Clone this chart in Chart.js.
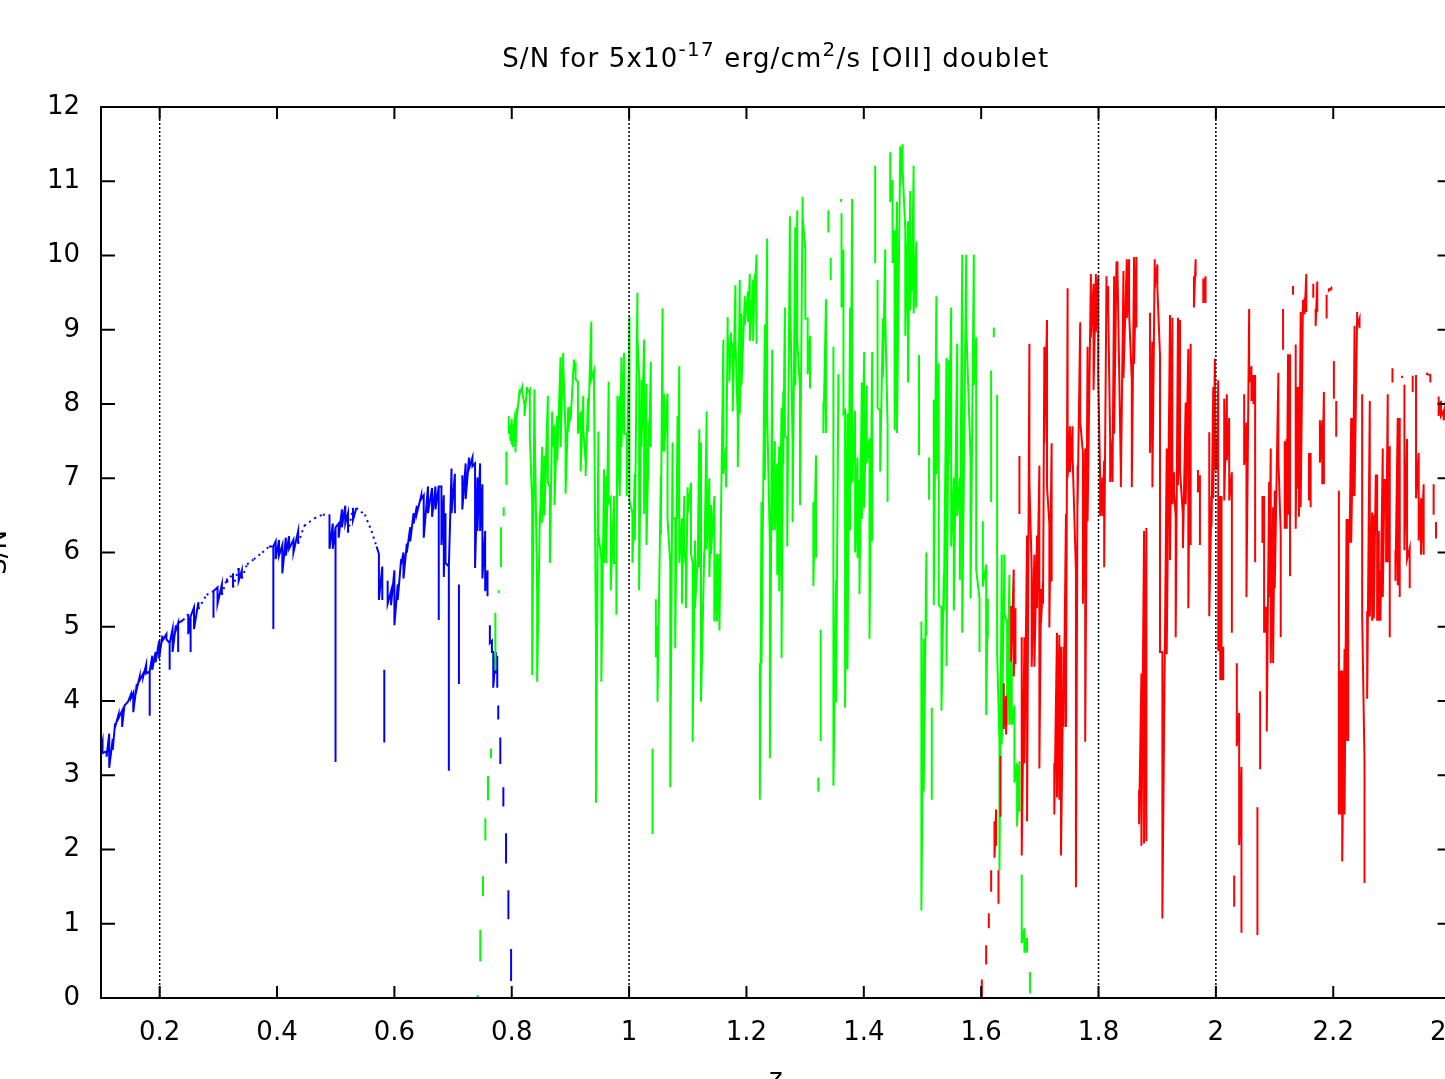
<!DOCTYPE html>
<html>
<head>
<meta charset="utf-8">
<script src="https://cdn.jsdelivr.net/npm/chart.js@4.4.1/dist/chart.umd.min.js"></script>
<style>
html,body{margin:0;padding:0;background:#fff;overflow:hidden;}
#wrap{position:absolute;left:0;top:0;width:1500px;height:1079px;}
</style>
</head>
<body>
<div id="wrap"><canvas id="c" width="1500" height="1079"></canvas></div>
<script>
// ---------------- data ----------------
const xTickValues = [0.2,0.4,0.6,0.8,1.0,1.2,1.4,1.6,1.8,2.0,2.2,2.4];
const xTickLabels = ['0.2','0.4','0.6','0.8','1','1.2','1.4','1.6','1.8','2','2.2','2.4'];
const yTickValues = [0,1,2,3,4,5,6,7,8,9,10,11,12];
const yTickLabels = ['0','1','2','3','4','5','6','7','8','9','10','11','12'];
const dottedZ = [0.2, 1.0, 1.8, 2.0];
const titleParts = [['S/N for 5x10', false], ['-17', true], [' erg/cm', false], ['2', true], ['/s [OII] doublet', false]];
const xAxisTitle = 'z';
const yAxisTitle = 'S/N';

// each sample: [z, S/N upper, S/N lower(, S/N return)] in a narrow redshift bin; null = no data
const blueSamples = [
 [0.100,3.41,3.35],[0.1026,3.45,3.30],[0.1095,3.32,3.25],[0.114,3.56,3.10],[0.120,3.49,3.34],
 [0.124,3.70,3.65],[0.130,3.82,3.77],[0.136,3.87,3.65],[0.140,3.94,3.94],[0.146,3.99,3.99],
 [0.151,4.09,4.04],[0.155,4.11,3.85],[0.161,4.23,4.16],[0.166,4.33,4.28],[0.172,4.37,4.33],
 [0.177,4.49,4.37],[0.183,4.40,3.80,4.40],[0.1874,4.61,4.42],[0.193,4.66,4.52],[0.199,4.81,4.57],
 [0.2046,4.88,4.81],[0.2115,4.90,4.83],[0.217,4.78,4.42,4.78],[0.222,4.97,4.66],[0.2275,5.02,4.95],
 [0.2315,5.05,4.66,5.05],[0.240,5.09,5.09],[0.2487,5.17,4.90],[0.2527,5.14,4.66,5.14],[0.2585,5.26,4.97],
 [0.266,5.33,5.24],[0.280,5.43,5.43],[0.2917,5.48,5.12,5.48],[0.2986,5.53,5.31],[0.306,5.57,5.43],
 [0.3146,5.65,5.60],[0.325,5.72,5.53],[0.3347,5.79,5.62],[0.340,5.76,5.65],[0.349,5.84,5.84],
 [0.3605,5.91,5.91],[0.375,6.00,6.00],[0.3862,6.08,6.08],[0.3937,6.08,4.97,6.08],[0.3977,6.15,5.91],
 [0.4034,6.17,5.96],[0.409,6.10,5.72],[0.415,6.20,5.96],[0.4206,6.22,6.05],[0.428,6.17,6.00],
 [0.436,6.29,6.12],[0.4464,6.36,6.36],[0.4636,6.46,6.46],[0.478,6.51,6.51],[0.4894,6.51,6.05],
 [0.495,6.39,6.05],[0.4997,6.34,3.18,6.34],[0.505,6.39,6.20],[0.5106,6.58,6.34],[0.5163,6.63,6.39],
 [0.5209,6.53,6.27],[0.5295,6.60,6.44],[0.5352,6.60,6.60],[0.5496,6.51,6.51],[0.561,6.29,6.29],
 [0.5696,6.08,6.08],[0.5736,5.98,5.36],[0.5794,5.81,5.36],null,[0.5828,4.42,3.44],null,
 [0.5885,5.62,5.31],[0.5943,5.48,5.29],[0.600,5.76,5.02],[0.6057,5.57,5.36],[0.6115,5.91,5.84],
 [0.6155,6.00,5.65],[0.6212,6.12,6.00],[0.627,6.34,6.15],[0.6327,6.53,6.39],[0.6384,6.63,6.53],
 [0.6458,6.77,6.72],[0.650,6.77,6.20],[0.6573,6.89,6.53],[0.6642,6.87,6.48],[0.670,6.89,6.58],
 [0.6756,6.89,5.09,6.89],[0.6802,6.89,6.10],[0.6842,6.77,5.67],[0.6871,6.53,5.86],[0.6928,5.81,3.06,5.81],
 [0.6974,7.13,6.53],[0.7031,7.06,6.53],null,[0.710,5.57,4.23],null,[0.7158,7.04,6.58],
 [0.7215,7.20,6.72],[0.7272,7.28,7.13],[0.733,7.28,7.16],[0.7375,7.20,5.79],[0.7415,7.01,6.29],
 [0.7461,7.20,6.29],[0.750,6.92,5.65],[0.7547,6.29,5.48],[0.7587,5.76,5.41],null,
 [0.7627,5.02,4.78],[0.7662,4.81,4.66],[0.7685,4.66,4.18],[0.773,4.66,4.37],[0.7753,4.61,4.18],null,
 [0.777,3.94,3.75],null,[0.7805,3.51,3.15],null,[0.7857,2.84,2.58],null,[0.7903,2.22,1.81],null,
 [0.7943,1.45,1.06],null,[0.7989,0.66,0.23]
];

const greenSamples = [
 [0.742,0.04,0.0],null,[0.7464,0.92,0.49],null,[0.751,1.64,1.37],null,[0.755,2.42,2.12],null,
 [0.7595,2.99,2.66],null,[0.7647,3.36,3.23],null,[0.7721,5.19,4.41],null,[0.7778,5.49,5.45],null,
 [0.7818,6.34,5.80],null,[0.7863,6.61,6.49],null,[0.7909,7.36,6.91],null,
 [0.7949,7.84,7.60],[0.7977,7.72,7.50],[0.8000,7.80,7.45],[0.8023,7.72,7.42],[0.8063,7.90,7.35],[0.8090,7.95,7.85],
 [0.8137,8.20,8.14],[0.8177,8.23,8.17],[0.8217,7.99,7.84],[0.8262,8.23,8.15],[0.8308,8.20,7.57],[0.8348,6.67,4.35],
 [0.8387,8.20,7.96],[0.8433,5.43,4.26],[0.8479,6.52,6.37],[0.8519,7.42,6.40],[0.8558,7.30,6.50],[0.8615,8.11,6.94],
 [0.865,6.88,5.86],[0.8689,7.90,7.42],[0.8729,7.72,6.64],[0.8775,7.84,7.24],[0.8832,8.63,7.42],[0.8877,8.69,8.57],
 [0.8917,7.60,6.79],[0.8963,7.96,7.63],[0.9003,7.96,7.78],[0.906,8.60,8.45],[0.9088,8.57,8.33],[0.9128,8.30,7.60],
 [0.9174,7.90,7.09],[0.9219,8.11,7.66],[0.9259,7.21,7.03],[0.9299,8.08,7.63],[0.9356,9.11,8.33],[0.9402,8.45,8.33],
 [0.9436,4.71,2.63],[0.9476,7.63,6.25],[0.9527,5.92,4.26],[0.9573,7.12,5.86],[0.9613,7.03,5.86],[0.9652,8.30,6.67],
 [0.9687,6.73,5.49],[0.9744,6.76,5.86],[0.9783,5.86,5.16],[0.9801,8.11,6.88],[0.984,8.11,6.76],[0.9869,8.63,7.42],
 [0.9915,8.69,7.60],[0.996,7.60,6.76],[1.0006,9.17,6.70],[1.0057,6.52,5.86],[1.0097,7.06,6.16],[1.0142,9.50,8.90],
 [1.0171,8.39,5.49],[1.0211,8.33,7.42],[1.0256,8.87,6.52],[1.0296,8.27,6.10],[1.0342,7.78,7.42],[1.037,8.57,7.42],null,
 [1.0399,3.36,2.21],null,
 [1.0456,5.37,4.59],[1.0484,5.01,3.99],[1.0541,7.03,6.25],[1.057,9.29,7.36],[1.0598,8.14,7.36],[1.0655,8.14,6.46],
 [1.0701,5.86,2.84],[1.0741,7.48,6.46],[1.0786,6.46,4.71],[1.0826,7.84,6.46],[1.0855,8.51,5.86],[1.09,6.46,5.31],
 [1.094,6.76,6.04],[1.0969,5.80,5.25],[1.0997,6.88,6.52],[1.1054,6.94,5.98],[1.1083,5.86,3.45],[1.1123,6.16,5.25],
 [1.1168,5.92,5.80],[1.1197,7.66,5.80],[1.1225,7.48,3.99],[1.1282,6.04,5.80],[1.1322,7.90,6.04],[1.1368,7.00,5.67],
 [1.1396,6.64,5.98],[1.1453,6.76,5.07],[1.1499,5.98,5.07],[1.1539,5.98,4.95],[1.1607,8.87,7.06],[1.1652,7.42,6.88],
 [1.1680,9.17,8.93],[1.1709,8.63,8.30],[1.1737,8.96,8.81],[1.1766,8.81,7.90],[1.1812,9.60,8.87],[1.1852,7.78,7.15],
 [1.1886,9.67,7.87],[1.1915,9.22,8.25],[1.1972,9.45,9.07],[1.2028,9.52,9.10],[1.2057,9.75,8.85],[1.2114,9.67,8.85],
 [1.2142,9.75,9.52],[1.2171,10.01,8.81],null,
 [1.2228,4.51,2.67],[1.2256,6.68,4.51],[1.2313,9.07,6.98],[1.2353,10.23,7.87],[1.2399,6.12,3.23],[1.2439,8.73,6.30],
 [1.2484,7.50,6.30],[1.2524,7.20,5.70],[1.2558,7.43,5.48],[1.2598,7.95,4.58],[1.2627,8.17,7.20],[1.2655,9.30,7.57],
 [1.2695,7.54,6.08],[1.2741,10.53,9.67],[1.2786,7.46,6.41],[1.2832,10.38,8.25],[1.2866,10.61,8.85],[1.2912,8.21,6.64],
 [1.2957,10.79,10.53],[1.3003,10.08,9.15],[1.3043,9.15,8.40],[1.3083,8.92,8.21],null,
 [1.314,6.68,5.55],[1.3185,7.31,5.93],null,[1.3225,2.97,2.78],null,[1.3265,4.96,3.46],null,
 [1.3311,8.02,7.61],[1.3356,9.41,7.61],null,[1.3396,10.61,10.31],null,[1.3436,9.97,9.67],null,
 [1.3482,8.77,2.86],[1.3527,5.63,3.98],[1.3567,8.40,7.91],null,[1.3613,10.76,10.72],null,
 [1.3620,10.57,9.30],[1.3653,10.08,7.87],[1.3681,7.91,3.91],[1.3721,7.87,4.43],[1.3767,9.30,6.30],[1.3801,10.76,6.94],
 [1.3852,7.91,6.00],[1.3892,7.28,5.93],[1.3926,6.98,5.44],[1.3966,8.29,6.45],[1.4006,8.70,6.60],[1.4051,8.25,7.20],
 [1.4097,7.54,4.84],[1.4143,8.70,6.15],null,[1.4194,11.21,9.90],null,
 [1.4234,9.67,7.95],[1.4279,7.91,7.09],[1.4325,9.15,8.36],[1.4365,10.08,9.18],[1.4405,7.72,6.68],null,
 [1.4450,11.39,10.72],[1.449,11.02,9.90],[1.4525,10.34,7.65],[1.4565,10.72,7.61],[1.4621,11.47,10.94],[1.4661,11.50,11.17],
 [1.4707,10.34,8.92],[1.4752,10.46,8.29],[1.4792,10.87,9.26],[1.4821,10.19,9.52],[1.4849,11.21,9.22],[1.4895,10.19,9.30],null,
 [1.4941,8.66,7.31],null,[1.4981,5.07,1.18],[1.5021,4.84,2.78],[1.5066,6.00,4.88],null,[1.5112,7.28,6.71],null,
 [1.5158,3.91,2.67],null,
 [1.5192,8.06,5.29],[1.5237,9.45,7.05],[1.5277,8.55,5.29],[1.5323,5.25,3.87],[1.5363,5.70,5.22],[1.5409,8.62,4.47],
 [1.5449,8.59,7.20],[1.5489,9.30,6.08],[1.5534,7.01,5.22],[1.5591,8.81,6.49],[1.5637,7.01,5.63],[1.5677,10.01,4.92],
 [1.5745,10.01,9.07],[1.5819,7.27,5.38],[1.5875,10.01,8.25],[1.5915,8.90,5.77],[1.5972,5.38,4.66],null,
 [1.6028,6.42,5.54],[1.6085,5.84,3.81],[1.6113,5.38,4.86],null,[1.617,8.45,6.68],null,[1.6215,9.03,8.90],null,
 [1.6272,8.12,4.66],[1.6312,3.42,1.72],[1.6351,5.97,3.42],[1.6397,5.97,5.18],[1.6442,5.05,3.68],[1.6482,5.70,3.68],
 [1.6521,4.53,3.68],[1.6567,3.94,2.90],[1.6612,3.16,2.31],[1.6652,3.19,2.51],null,
 [1.6691,1.66,0.74],[1.6737,0.94,0.61],[1.6782,0.81,0.61],null,[1.6833,0.35,0.06]
];

const redSamples = [
 [1.6011,0.25,0.0],null,[1.6085,0.71,0.45],null,[1.613,1.14,0.94],null,[1.617,1.72,1.43],null,
 [1.6227,2.38,1.89],[1.6255,2.54,2.05],null,[1.6295,1.72,1.27],null,[1.6329,3.26,2.44],null,
 [1.6385,4.24,3.62],[1.6425,4.07,3.55],null,[1.651,5.28,4.53],[1.6555,5.77,4.33],[1.6584,5.25,4.50],null,
 [1.6652,7.30,6.52],null,
 [1.6691,4.86,1.92],[1.6737,4.86,3.16],[1.6782,6.23,2.38],[1.6822,8.81,6.95],[1.6861,5.77,4.46],[1.6907,5.97,4.46],
 [1.6952,6.23,5.25],[1.6992,7.17,3.09],[1.702,5.51,5.05],[1.7054,5.61,5.31],[1.7077,8.77,7.47],[1.7122,9.13,6.88],
 [1.7162,6.39,4.99],[1.7201,7.47,5.61],null,
 [1.7246,3.16,2.47],[1.7292,4.92,2.70],[1.7332,4.89,2.67],[1.736,4.73,1.92],[1.7405,4.73,3.65],[1.7445,6.52,3.65],
 [1.7473,9.56,7.01],[1.7513,7.70,7.08],[1.7558,7.70,7.30],[1.7615,5.74,1.49],[1.7643,7.17,6.65],[1.7688,9.10,7.76],
 [1.7734,7.34,5.31],[1.7773,7.40,3.45],[1.7813,8.77,6.42],[1.787,9.75,8.90],[1.7915,9.62,8.19],[1.7955,9.75,8.97],
 [1.7994,9.72,8.38],[1.8028,7.01,6.49],[1.8068,7.01,6.49],[1.8096,7.24,5.80],[1.8136,9.72,9.33],[1.8164,9.59,9.33],
 [1.8198,7.53,6.95],[1.8238,7.53,6.95],[1.8266,9.72,7.60],[1.8306,9.92,9.82],[1.8323,9.92,9.82],[1.838,7.08,6.88],
 [1.8425,9.79,8.35],[1.8482,9.95,9.16],[1.8521,9.95,9.23],[1.8567,8.32,6.88],[1.8606,9.98,8.54],[1.8646,9.98,9.03],null,
 [1.8691,2.80,2.34],[1.8731,4.37,2.05],[1.8776,6.29,2.08],[1.8816,6.33,2.11],null,
 [1.8878,9.23,7.34],[1.8918,8.84,6.88],[1.8958,9.95,9.56],[1.9003,9.88,9.56],[1.9048,8.64,4.66],[1.9088,4.66,1.07],
 [1.9128,4.60,4.50],[1.9162,7.40,4.63],[1.9218,9.20,5.90],[1.9258,9.16,6.65],[1.9286,7.08,6.81],[1.9315,6.49,4.86],
 [1.9354,9.16,6.91],[1.9388,9.13,7.11],[1.9439,6.49,6.06],[1.9485,8.02,6.65],[1.953,8.74,5.25],[1.957,8.81,6.10],null,
 [1.9626,9.72,9.30],[1.9655,9.95,9.72],null,[1.9694,7.11,6.81],[1.9728,7.04,6.10],null,
 [1.9785,9.69,9.36],[1.9824,9.72,9.36],null,
 [1.9887,7.62,5.14],[1.9926,6.76,6.35],[1.9955,8.23,6.73],[1.9983,8.61,7.11],[2.0017,7.53,7.11],[2.004,8.32,4.67],
 [2.0074,6.76,4.28],[2.0096,6.76,4.28],[2.0125,4.73,4.28],null,
 [2.0142,8.07,6.70],[2.0187,8.13,7.24],[2.0227,7.81,6.70],[2.0272,7.08,4.92],null,[2.0312,1.65,1.23],null,
 [2.0357,4.51,3.39],[2.0397,3.84,2.06],[2.0436,3.11,0.88],null,
 [2.0482,8.13,7.18],[2.0521,7.75,5.40],[2.0567,9.28,8.29],[2.0606,8.51,8.04],[2.064,8.39,8.00],[2.0669,8.39,5.87],null,
 [2.0708,2.57,0.85],null,[2.0754,4.13,3.08],null,
 [2.0793,6.76,6.13],[2.0822,6.76,4.92],[2.085,5.27,4.92],[2.0867,5.27,3.59],[2.0907,6.95,5.40],[2.0935,7.40,4.51],
 [2.0975,6.61,4.51],[2.1003,6.83,5.52],[2.1065,8.42,7.27],[2.1105,6.26,4.86],null,[2.1145,9.28,8.73],null,
 [2.1173,7.50,6.32],[2.1207,7.53,6.32],[2.123,8.67,6.51],[2.1264,8.67,5.68],null,[2.1314,9.59,9.47],null,
 [2.136,8.80,6.32],[2.1388,8.23,6.86],[2.1416,8.23,6.48],[2.1445,9.24,6.61],[2.1484,9.40,9.21],[2.1513,9.43,9.21],
 [2.1541,9.75,9.24],null,[2.1586,7.34,6.70],[2.1615,7.34,6.61],null,[2.166,9.62,9.43],null,
 [2.17,9.28,9.05],[2.1728,9.65,9.24],null,[2.1773,7.78,7.21],[2.1813,7.78,6.92],[2.1841,8.16,6.92],null,
 [2.1887,9.47,9.15],null,[2.1926,9.56,9.53],[2.1966,9.56,9.53],null,[2.2011,8.58,8.07],null,[2.2051,8.04,7.56],null,
 [2.2096,6.83,2.47],[2.2125,4.41,2.47],[2.2153,4.41,1.84],[2.2193,4.70,2.47],[2.2227,6.45,3.46],[2.2255,6.45,3.46],null,
 [2.2278,6.29,6.13],[2.2306,7.81,6.13],[2.234,7.81,6.76],[2.2363,9.05,6.76],[2.2408,9.24,9.05],[2.2448,9.15,9.02],null,
 [2.2493,8.13,5.14],[2.2533,3.17,1.55],null,
 [2.2578,5.21,4.03],[2.2623,8.04,5.14],[2.2663,6.54,5.08],[2.2691,6.51,5.11],[2.2725,7.05,6.29],[2.2748,7.05,5.08],
 [2.2776,6.29,5.08],[2.2805,5.75,5.08],[2.2844,7.40,5.40],[2.2873,6.99,6.57],[2.2901,6.99,5.87],[2.2929,8.13,5.87],
 [2.2963,7.43,4.86],null,[2.3009,8.48,8.29],null,
 [2.306,6.03,5.62],[2.3099,7.81,5.56],[2.3133,7.81,5.40],null,[2.3173,8.38,8.35],null,
 [2.3213,8.26,6.03],[2.3258,7.53,5.91],[2.3303,6.06,5.52],null,[2.3354,8.38,8.16],null,
 [2.3411,8.39,6.73],[2.3456,7.34,6.16],[2.3496,6.73,5.97],[2.3541,6.92,5.97],null,
 [2.3598,8.42,8.40],[2.3655,8.39,8.29],null,[2.3711,6.92,6.51],null,[2.3751,6.41,6.19],null,
 [2.3796,8.10,7.84],[2.3836,8.04,7.84],[2.3881,7.91,7.78],[2.3920,8.05,7.70]
];

// ---------------- build ----------------
function toPoints(samples) {
  const pts = [];
  let lastZ = 0;
  for (const s of samples) {
    if (s === null) { pts.push({x: lastZ, y: null}); continue; }
    lastZ = s[0];
    for (let k = 1; k < s.length; k++) pts.push({x: s[0], y: s[k]});
  }
  return pts;
}

const FONT = '"DejaVu Sans", "Liberation Sans", sans-serif';

const gnuplotDecor = {
  id: 'gnuplotDecor',
  afterDraw(chart) {
    const {ctx, chartArea: a, scales: {x, y}} = chart;
    ctx.save();
    // dotted reference lines
    ctx.strokeStyle = '#000';
    ctx.lineWidth = 1.5;
    ctx.setLineDash([2, 2]);
    dottedZ.forEach(z => {
      const px = x.getPixelForValue(z);
      ctx.beginPath(); ctx.moveTo(px, a.top); ctx.lineTo(px, a.bottom); ctx.stroke();
    });
    ctx.setLineDash([]);
    // inward ticks
    ctx.lineWidth = 2;
    ctx.beginPath();
    xTickValues.forEach(v => {
      const px = x.getPixelForValue(v);
      ctx.moveTo(px, a.bottom); ctx.lineTo(px, a.bottom - 12);
      ctx.moveTo(px, a.top); ctx.lineTo(px, a.top + 12);
    });
    yTickValues.forEach(v => {
      const py = y.getPixelForValue(v);
      ctx.moveTo(a.left, py); ctx.lineTo(a.left + 14, py);
      ctx.moveTo(a.right, py); ctx.lineTo(a.right - 13, py);
    });
    ctx.stroke();
    // frame
    ctx.strokeRect(a.left, a.top, a.right - a.left, a.bottom - a.top);

    // title with superscripts
    ctx.fillStyle = '#000';
    ctx.textBaseline = 'alphabetic';
    ctx.textAlign = 'left';
    if ('letterSpacing' in ctx) ctx.letterSpacing = '1.2px';
    const mainFont = '26px ' + FONT, supFont = '20px ' + FONT;
    let total = 0;
    const widths = titleParts.map(([t, sup]) => { ctx.font = sup ? supFont : mainFont; const w = ctx.measureText(t).width; total += w; return w; });
    let xpos = (a.left + a.right) / 2 - total / 2;
    titleParts.forEach(([t, sup], i) => {
      ctx.font = sup ? supFont : mainFont;
      ctx.fillText(t, xpos, sup ? 56 : 67);
      xpos += widths[i];
    });
    if ('letterSpacing' in ctx) ctx.letterSpacing = '0px';

    // axis titles (mostly outside the photographed area, as in the reference)
    ctx.font = '26px ' + FONT;
    ctx.textAlign = 'center';
    ctx.fillText(xAxisTitle, (a.left + a.right) / 2, 1087);
    ctx.save();
    ctx.translate(6, (a.top + a.bottom) / 2);
    ctx.rotate(-Math.PI / 2);
    ctx.fillText(yAxisTitle, 0, 0);
    ctx.restore();
    ctx.restore();
  }
};

const mkSet = (label, samples, color, order, dashed) => ({
  label, data: toPoints(samples), borderColor: color, backgroundColor: color,
  showLine: true, pointRadius: 0, borderWidth: 2, order, spanGaps: false,
  borderCapStyle: 'butt', borderJoinStyle: 'miter',
  segment: dashed ? { borderDash: c => (Math.abs(c.p1.x - c.p0.x) > 5 ? [2, 4] : undefined) } : undefined
});

new Chart(document.getElementById('c'), {
  type: 'scatter',
  data: {
    datasets: [
      mkSet('blue', blueSamples, '#0000ff', 3, true),
      mkSet('green', greenSamples, '#00ff00', 2, false),
      mkSet('red', redSamples, '#ff0000', 1, false)
    ]
  },
  options: {
    responsive: false,
    animation: false,
    devicePixelRatio: 1,
    layout: { padding: { top: 107, left: 0, right: 49.4, bottom: 0 } },
    plugins: { legend: { display: false }, tooltip: { enabled: false }, title: { display: false } },
    scales: {
      x: {
        type: 'linear', min: 0.1, max: 2.4,
        afterBuildTicks: s => { s.ticks = xTickValues.map(v => ({ value: v })); },
        afterFit: s => { s.height = 81; },
        grid: { display: false }, border: { display: false },
        ticks: { color: '#000', font: { family: FONT, size: 26, lineHeight: 1 }, padding: 14,
                 maxRotation: 0, autoSkip: false, callback: (v, i) => xTickLabels[i] }
      },
      y: {
        type: 'linear', min: 0, max: 12,
        afterBuildTicks: s => { s.ticks = yTickValues.map(v => ({ value: v })); },
        afterFit: s => { s.width = 101; },
        grid: { display: false }, border: { display: false },
        ticks: { color: '#000', font: { family: FONT, size: 26, lineHeight: 1 }, padding: 13,
                 autoSkip: false, callback: (v, i) => yTickLabels[i] }
      }
    }
  },
  plugins: [gnuplotDecor]
});
</script>
</body>
</html>
